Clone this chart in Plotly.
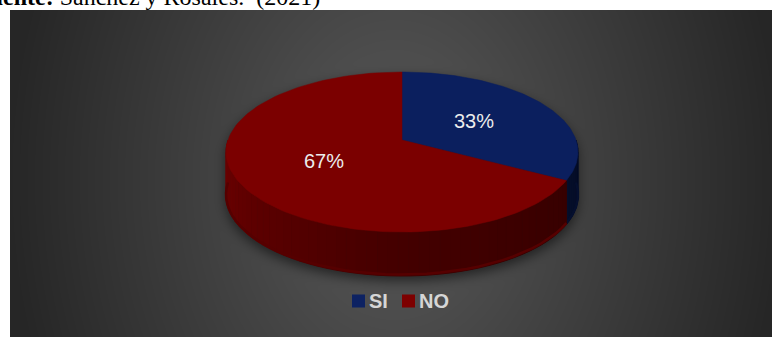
import base64
import struct
import zlib

import numpy as np
import plotly.graph_objects as go

# ---- data -------------------------------------------------------------
categories = ["SI", "NO"]
values = [33, 67]
top_colors = ["#0b1f5e", "#7b0000"]
side_rgb = [(11, 31, 94), (123, 0, 0)]
legend_colors = ["#0d2262", "#7d0000"]
source_note = "<b>Fuente:</b> Sánchez y Rosales.\u00a0\u00a0(2021)"

# ---- page / panel geometry (pixels) -------------------------------------
W, H = 772, 337
PANEL = (10, 10, 772, 337)          # x0, y0, x1, y1 of the dark panel

# 3-D pie projection: circle seen from above with a little perspective
CX, CY = 402.0, 140.0               # projected centre of the top face
R, K, P = 174.0, 78.2, 0.15         # horizontal radius, vertical scale, perspective
DEPTH = 44.0                        # thickness of the pie
START = 90.0                        # first slice starts at 12 o'clock, clockwise


def project(theta_deg, r=1.0, drop=0.0):
    t = np.radians(theta_deg)
    s = 1.0 / (1.0 + P * r * np.sin(t))
    return CX + R * r * np.cos(t) * s, CY - K * r * np.sin(t) * s + drop


# slice angle spans from the values
total = float(sum(values))
spans = []
a = START
for v in values:
    b = a - 360.0 * v / total
    spans.append((a, b))
    a = b


# ---- background panel: radial grey gradient with a soft pie shadow --------
def png_bytes(rgb):
    h, w, _ = rgb.shape
    raw = b"".join(b"\x00" + rgb[y].tobytes() for y in range(h))

    def chunk(tag, data):
        c = struct.pack(">I", len(data)) + tag + data
        return c + struct.pack(">I", zlib.crc32(tag + data) & 0xFFFFFFFF)

    return (b"\x89PNG\r\n\x1a\n"
            + chunk(b"IHDR", struct.pack(">IIBBBBB", w, h, 8, 2, 0, 0, 0))
            + chunk(b"IDAT", zlib.compress(raw, 9))
            + chunk(b"IEND", b""))


def blur(img, sigma):
    rad = int(3 * sigma)
    k = np.exp(-0.5 * (np.arange(-rad, rad + 1) / sigma) ** 2)
    k /= k.sum()
    img = np.apply_along_axis(lambda m: np.convolve(m, k, mode="same"), 0, img)
    img = np.apply_along_axis(lambda m: np.convolve(m, k, mode="same"), 1, img)
    return img


def panel_image():
    x0, y0, x1, y1 = PANEL
    ys, xs = np.mgrid[y0:y1, x0:x1].astype(float) + 0.5
    t = np.sqrt(((xs - 395) / 390.0) ** 2 + ((ys - 180) / 520.0) ** 2)
    grey = 38 + 52 * (1 - np.clip(t, 0, 1))

    # pie silhouette (top ellipse swept down by the depth), offset for shadow
    ey_c = (project(90)[1] + project(270)[1]) / 2
    ey_r = (project(270)[1] - project(90)[1]) / 2
    ex_r = R / np.sqrt(1 - P ** 2)
    dx = (xs - CX) / ex_r
    hh = ey_r * np.sqrt(np.clip(1 - dx ** 2, 0, None))
    sy = ys - 5
    mask = ((np.abs(dx) <= 1) & (sy >= ey_c - hh) & (sy <= ey_c + DEPTH + hh)).astype(float)
    shadow = blur(mask, 6.0)
    grey = grey * (1 - 0.55 * shadow)

    g = np.clip(grey, 0, 255).astype(np.uint8)
    rgb = np.stack([g, g, g], axis=-1)
    return "data:image/png;base64," + base64.b64encode(png_bytes(rgb)).decode()


fig = go.Figure()

# ---- side wall (front half only), shaded by angle -------------------------
def shade(theta):
    return np.interp(theta, [-180, -90, 0], [0.92, 0.55, 0.40])


for (a0, a1), rgb, name in zip(spans, side_rgb, categories):
    lo, hi = max(min(a0, a1), -180.0), min(max(a0, a1), 0.0)
    # bring spans expressed beyond -180 into the visible window
    if max(a0, a1) < -180:
        continue
    if lo >= hi:
        continue
    edges = np.linspace(lo, hi, max(2, int(np.ceil((hi - lo) / 3.0)) + 1))
    for e0, e1 in zip(edges[:-1], edges[1:]):
        th = np.linspace(e0, e1, 6)
        tx, ty = project(th)
        bx, by = project(th[::-1], drop=DEPTH)
        f = shade((e0 + e1) / 2)
        col = "rgb({},{},{})".format(*[int(round(c * f)) for c in rgb])
        fig.add_trace(go.Scatter(
            x=np.concatenate([tx, bx]), y=np.concatenate([ty, by]),
            mode="lines", fill="toself", fillcolor=col,
            line=dict(color=col, width=1), hoverinfo="skip", showlegend=False))
    # lighter rim along the bottom edge
    th = np.linspace(lo, hi, 40)
    bx, by = project(th, drop=DEPTH - 1.5)
    f = shade(th.mean()) * 1.15
    col = "rgb({},{},{})".format(*[int(round(c * f)) for c in rgb])
    fig.add_trace(go.Scatter(x=bx, y=by, mode="lines",
                             line=dict(color=col, width=2.5),
                             hoverinfo="skip", showlegend=False))

# ---- top face slices ------------------------------------------------------
for (a0, a1), col, name, v in zip(spans, top_colors, categories, values):
    th = np.linspace(a0, a1, 120)
    ax_, ay_ = project(th)
    px = np.concatenate([[CX], ax_, [CX]])
    py = np.concatenate([[CY], ay_, [CY]])
    fig.add_trace(go.Scatter(
        x=px, y=py, mode="lines", fill="toself", fillcolor=col,
        line=dict(color=col, width=0.5), name=name,
        hovertemplate=f"{name}: {v}%<extra></extra>", showlegend=False))

# ---- percentage labels ----------------------------------------------------
for (a0, a1), v in zip(spans, values):
    lx, ly = project((a0 + a1) / 2, r=0.5)
    pct = round(100 * v / total)
    fig.add_annotation(x=float(lx), y=float(ly), text=f"{pct}%", showarrow=False,
                       font=dict(family="Liberation Sans", size=20, color="#ececec"))

# ---- legend (keys + labels) ------------------------------------------------
LEGEND_X = [352, 402]
LEGEND_Y = 301
KEY = 13
for lx, col, name in zip(LEGEND_X, legend_colors, categories):
    fig.add_shape(type="rect", xref="x", yref="y",
                  x0=lx, x1=lx + KEY, y0=LEGEND_Y - KEY / 2, y1=LEGEND_Y + KEY / 2,
                  fillcolor=col, line=dict(width=0))
    fig.add_annotation(x=lx + KEY + 2, y=LEGEND_Y, text=f"<b>{name}</b>",
                       xanchor="left", showarrow=False,
                       font=dict(family="Liberation Sans", size=20, color="#d6d6d6"))

# ---- source note along the top edge ---------------------------------------
fig.add_annotation(xref="paper", yref="paper", x=-27 / W, y=1 - 12 / H,
                   xanchor="left", yanchor="bottom", showarrow=False,
                   text=source_note,
                   font=dict(family="Liberation Serif", size=24, color="#000000"))

x0, y0, x1, y1 = PANEL
fig.add_layout_image(dict(
    source=panel_image(), xref="paper", yref="paper",
    x=x0 / W, y=1 - y0 / H, sizex=(x1 - x0) / W, sizey=(y1 - y0) / H,
    xanchor="left", yanchor="top", sizing="stretch", layer="below"))

fig.update_layout(
    width=W, height=H, margin=dict(l=0, r=0, t=0, b=0),
    paper_bgcolor="#ffffff", plot_bgcolor="rgba(0,0,0,0)",
    xaxis=dict(range=[0, W], visible=False, fixedrange=True),
    yaxis=dict(range=[H, 0], visible=False, fixedrange=True),
    showlegend=False,
)

fig.write_html("out.html")
